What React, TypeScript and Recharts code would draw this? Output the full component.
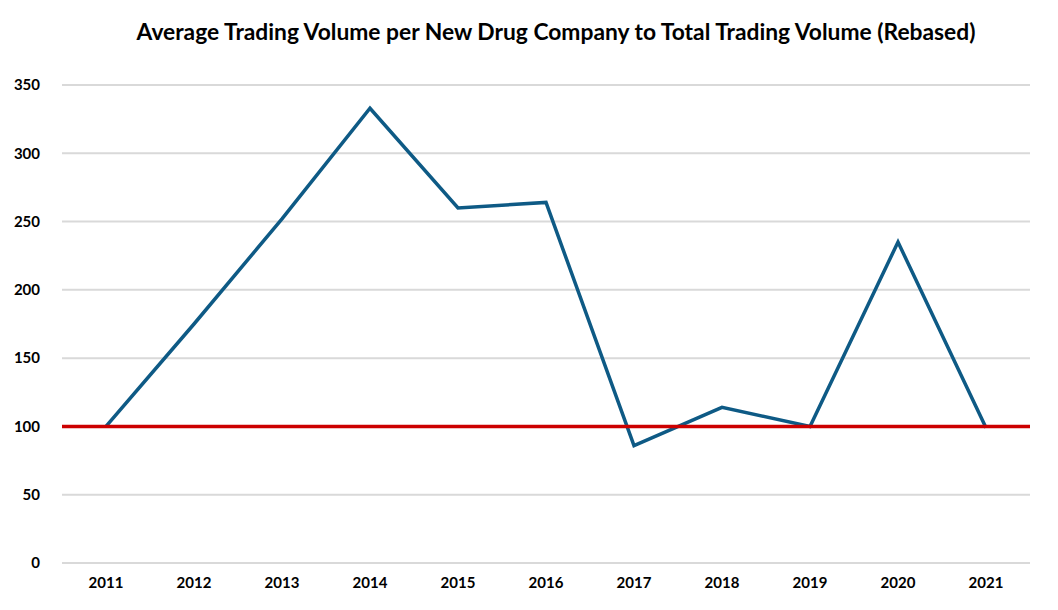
import React from "react";
import { LineChart, Line, XAxis, YAxis, CartesianGrid, ReferenceLine } from "recharts";

const years = ["2011", "2012", "2013", "2014", "2015", "2016", "2017", "2018", "2019", "2020", "2021"];
const rebased = [100, 175, 252, 333, 260, 264, 86, 114, 100, 235, 99];
const yTicks = [0, 50, 100, 150, 200, 250, 300, 350];
const baseline = 100;
const title = "Average Trading Volume per New Drug Company to Total Trading Volume (Rebased)";

const data = years.map((y, i) => ({ year: y, value: rebased[i] }));

const FONT = "Lato, 'Open Sans', sans-serif";

export default function App() {
  return (
    <div style={{ position: "absolute", left: 0, top: 0, width: 1058, height: 610, background: "#fff", fontFamily: FONT }}>
      <div
        style={{
          position: "absolute",
          left: 0,
          top: 16,
          width: 1112,
          textAlign: "center",
          fontSize: 22.8,
          lineHeight: "30px",
          fontWeight: 700,
          color: "#000",
          fontFamily: FONT,
        }}
      >
        {title}
      </div>
      <LineChart width={1058} height={610} data={data} margin={{ top: 85, right: 28, bottom: 0, left: 0 }}>
        <CartesianGrid vertical={false} stroke="#D9D9D9" strokeWidth={2} />
        <XAxis
          dataKey="year"
          height={47}
          padding={{ left: 44, right: 44 }}
          axisLine={false}
          tickLine={false}
          tickSize={0}
          tickMargin={14}
          interval={0}
          tick={{ fill: "#000", fontSize: 15, fontWeight: 700, fontFamily: FONT }}
        />
        <YAxis
          width={62}
          domain={[0, 350]}
          ticks={yTicks}
          axisLine={false}
          tickLine={false}
          tickSize={0}
          tickMargin={22}
          interval={0}
          tick={{ fill: "#000", fontSize: 15, fontWeight: 700, fontFamily: FONT }}
        />
        <Line
          type="linear"
          dataKey="value"
          stroke="#0E5A85"
          strokeWidth={3.5}
          dot={false}
          activeDot={false}
          isAnimationActive={false}
        />
        <ReferenceLine y={baseline} stroke="#CC0000" strokeWidth={3.5} />
      </LineChart>
    </div>
  );
}
